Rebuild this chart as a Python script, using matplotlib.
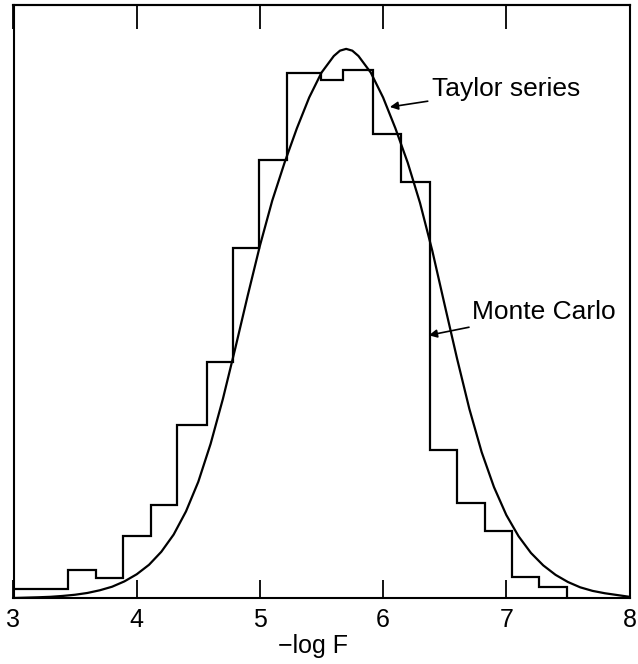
import matplotlib
matplotlib.use("Agg")
import matplotlib.pyplot as plt

plt.rcParams['font.family'] = ['Liberation Sans', 'DejaVu Sans']

# Monte Carlo histogram (bin edges in -log F, heights in % of plot height)
mc_edges = [3.0, 3.440, 3.670, 3.891, 4.114, 4.330, 4.573, 4.784, 4.995, 5.222,
            5.496, 5.672, 5.916, 6.143, 6.381, 6.600, 6.825, 7.046, 7.265, 7.493]
mc_heights = [1.6, 4.8, 3.3, 10.5, 15.7, 29.2, 39.8, 59.0, 73.8, 88.6,
              87.3, 89.0, 78.2, 70.1, 24.9, 16.1, 11.3, 3.6, 1.8]

# Taylor series curve
ts_x = [3.0, 3.1, 3.2, 3.3, 3.4, 3.5, 3.6, 3.7, 3.8, 3.9,
        4.0, 4.1, 4.2, 4.3, 4.4, 4.5, 4.6, 4.7, 4.8, 4.9,
        5.0, 5.1, 5.2, 5.3, 5.4, 5.5, 5.6, 5.65, 5.7, 5.75, 5.8, 5.9,
        6.0, 6.1, 6.2, 6.3, 6.4, 6.5, 6.6, 6.7, 6.8, 6.9,
        7.0, 7.1, 7.2, 7.3, 7.4, 7.5, 7.6, 7.7, 7.8, 7.9, 8.0]
ts_y = [0.0, 0.06, 0.12, 0.2, 0.35, 0.55, 0.85, 1.3, 1.9, 2.8,
        4.0, 5.6, 7.8, 10.7, 14.6, 19.6, 26.0, 33.6, 42.1, 50.9,
        59.4, 67.0, 73.4, 79.2, 84.4, 88.6, 91.4, 92.3, 92.6, 92.3, 91.4, 88.6,
        84.4, 79.2, 73.4, 66.6, 58.5, 49.4, 40.4, 31.9, 24.6, 18.7,
        14.0, 10.4, 7.6, 5.5, 3.9, 2.7, 1.8, 1.2, 0.8, 0.5, 0.2]

xticks = [3, 4, 5, 6, 7, 8]
xtick_labels = ['3', '4', '5', '6', '7', '8']

fig = plt.figure(figsize=(6.38, 6.64), dpi=100)
ax = fig.add_axes([13.5 / 638, 66 / 664, 616 / 638, 593 / 664])

ax.stairs(mc_heights, mc_edges, baseline=0, color='black', lw=1.6)
ax.plot(ts_x, ts_y, color='black', lw=1.6, solid_capstyle='round',
        solid_joinstyle='round')

ax.set_xlim(3, 8)
ax.set_ylim(0, 100)
ax.set_xticks(xticks)
ax.set_xticklabels(xtick_labels)
ax.set_yticks([])
ax.tick_params(axis='x', direction='in', length=13, width=1.3, pad=7, labelsize=18)

sec = ax.secondary_xaxis('top')
sec.set_xticks(xticks)
sec.tick_params(axis='x', direction='in', length=17, width=1.3, labeltop=False)

for s in ax.spines.values():
    s.set_linewidth(1.5)
sec.spines['top'].set_linewidth(1.5)

ax.set_xlabel('\u2212log F', fontsize=18)
ax.xaxis.set_label_coords(0.487, -0.060)
ax.xaxis.label.set_va('top')

ax.annotate('Taylor series', xy=(6.055, 82.8), xytext=(6.396, 85.8),
            fontsize=19, va='center', ha='left',
            arrowprops=dict(arrowstyle='-|>', color='black', lw=1.2,
                            mutation_scale=12, shrinkA=1, shrinkB=0))
ax.annotate('Monte Carlo', xy=(6.371, 44.3), xytext=(6.722, 48.2),
            fontsize=19, va='center', ha='left',
            arrowprops=dict(arrowstyle='-|>', color='black', lw=1.2,
                            mutation_scale=12, shrinkA=1, shrinkB=0))

fig.savefig('out.png', dpi=100)
